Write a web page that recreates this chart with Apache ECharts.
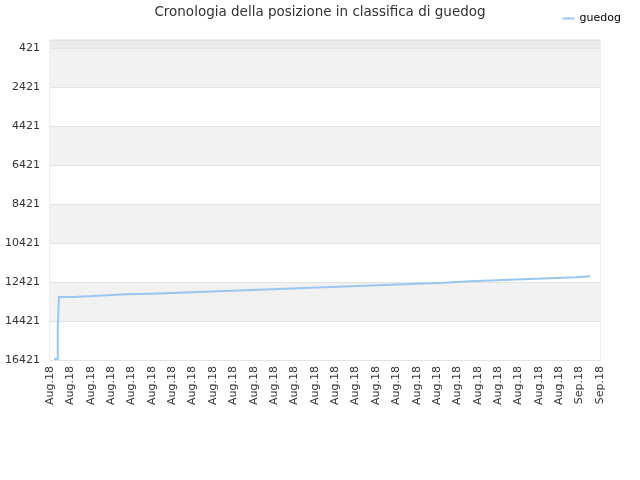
<!DOCTYPE html>
<html>
<head>
<meta charset="utf-8">
<script src="https://cdn.jsdelivr.net/npm/echarts@6/dist/echarts.min.js"></script>
<style>
  html, body { margin: 0; padding: 0; background: #fff; }
  #chart { width: 640px; height: 480px; }
</style>
</head>
<body>
<div id="chart"></div>
<script>
// etichette asse x (una per tacca)
var xLabels = ['Aug.18','Aug.18','Aug.18','Aug.18','Aug.18','Aug.18','Aug.18','Aug.18','Aug.18','Aug.18',
  'Aug.18','Aug.18','Aug.18','Aug.18','Aug.18','Aug.18','Aug.18','Aug.18','Aug.18','Aug.18',
  'Aug.18','Aug.18','Aug.18','Aug.18','Aug.18','Aug.18','Sep.18','Sep.18'];
// tacche asse y
var yTicks = [421, 2421, 4421, 6421, 8421, 10421, 12421, 14421, 16421];
// posizione dei cambi (in unita di tacca x) e posizione in classifica
var xPos = [0.2, 0.38, 0.44, 1.11, 2.41, 3.73, 5.01, 6.33, 7.61, 8.92, 10.21, 11.54,
  12.81, 14.14, 15.42, 16.74, 18.02, 19.34, 20.62, 21.94, 23.22, 24.55, 25.82, 26.51];
var ranks = [16370, 14831, 13190, 13123, 13051, 13021, 12970, 12918, 12867, 12816, 12764, 12713,
  12662, 12610, 12559, 12508, 12457, 12385, 12334, 12283, 12231, 12180, 12129, 12129];

var data = [];
for (var i = 0; i < xPos.length; i++) {
  data.push([xPos[i], ranks[i]]);
}

var myChart = echarts.init(document.getElementById('chart'));
var option = {
  animation: false,
  textStyle: { fontFamily: 'DejaVu Sans' },
  title: {
    text: 'Cronologia della posizione in classifica di guedog',
    left: 'center',
    top: 0,
    textStyle: { fontSize: 13.5, fontWeight: 'normal', color: '#333', fontFamily: 'DejaVu Sans' }
  },
  legend: {
    right: 14,
    top: 8,
    icon: 'rect',
    itemWidth: 12,
    itemHeight: 2,
    itemGap: 6,
    textStyle: { fontSize: 11, color: '#000', fontFamily: 'DejaVu Sans' },
    data: ['guedog']
  },
  grid: {
    left: 50, right: 40, top: 40, bottom: 120,
    show: true, borderColor: '#dcdcdc', borderWidth: 1,
    containLabel: false
  },
  xAxis: {
    type: 'value',
    min: 0,
    max: xLabels.length - 1,
    interval: 1,
    axisLine: { show: false },
    axisTick: { show: false },
    splitLine: { show: false },
    axisLabel: {
      rotate: 90,
      fontSize: 11,
      color: '#333',
      margin: 6,
      formatter: function (v) { return xLabels[Math.round(v)] || ''; }
    }
  },
  yAxis: {
    type: 'value',
    inverse: true,
    min: 0,
    max: 16421,
    axisLine: { show: false },
    axisTick: { show: false, customValues: [0].concat(yTicks) },
    axisLabel: {
      customValues: yTicks, fontSize: 11, color: '#333', margin: 10,
      formatter: function (v) { return String(v); }
    },
    splitLine: { show: true, lineStyle: { color: '#e2e2e2', width: 1 } },
    splitArea: {
      show: true,
      areaStyle: { color: ['#ebebeb', '#f2f2f2', '#ffffff', '#f2f2f2', '#ffffff', '#f2f2f2', '#ffffff', '#f2f2f2', '#ffffff'] }
    }
  },
  series: [
    {
      name: 'guedog',
      type: 'line',
      step: 'end',
      showSymbol: false,
      symbol: 'none',
      color: '#99c7f2',
      lineStyle: { width: 2, color: '#99c7f2', cap: 'butt', join: 'miter' },
      data: data
    }
  ]
};
myChart.setOption(option);
</script>
</body>
</html>
